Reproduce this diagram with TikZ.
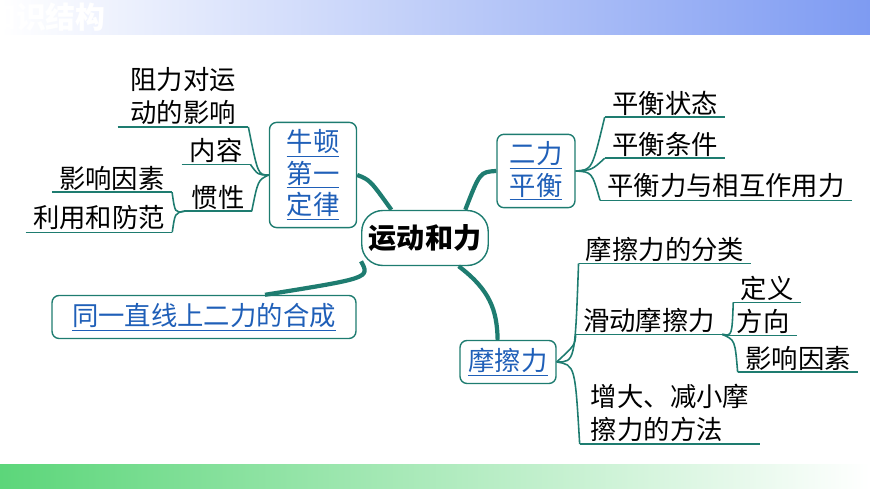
\documentclass[tikz,border=0pt]{standalone}
\usepackage{fontspec}
\setmainfont{Noto Sans CJK SC}
\usetikzlibrary{calc}
\definecolor{teal1}{HTML}{1E7C70}
\definecolor{linkblue}{HTML}{1F5FB8}
\definecolor{barblue}{HTML}{7E9BF2}
\definecolor{bargreen}{HTML}{5CD67A}
\tikzset{
  box/.style={draw=teal1, thick, rounded corners=4pt, fill=white, inner sep=4pt},
  leaf/.style={inner xsep=4pt, inner ysep=1pt, font=\fontsize{15}{19}\selectfont, align=left},
  uline/.style={teal1, line width=0.9pt},
  twig/.style={teal1, line width=0.9pt},
  bough/.style={teal1, line width=2.4pt},
}
\newcommand{\blink}[1]{\textcolor{linkblue}{\underline{#1}}}
\newcommand{\under}[1]{\draw[uline] (#1.south west) -- (#1.south east);}
\begin{document}
\begin{tikzpicture}[x=0.02cm, y=-0.02cm]
	\useasboundingbox (0,0) rectangle (870,489);

	% Bars
	\shade[left color=white, right color=barblue] (0,0) rectangle (870,35);
	\node[anchor=west, text=white, font=\fontsize{17}{20}\bfseries] (title) at (-20,17) {知识结构};
	\shade[left color=bargreen, right color=white] (0,465) rectangle (870,489);

	% Boxes
	\node[box, font=\fontsize{16}{20}\bfseries, rounded corners=12pt, minimum width=2.5cm, minimum height=1.1cm] (root) at (425,238) {运动和力};
	\node[box, font=\fontsize{15}{20}\selectfont, align=center, minimum width=1.74cm, minimum height=2.06cm] (newton) at (313,175) {\blink{牛顿}\\[-2pt]\blink{第一}\\[-2pt]\blink{定律}};
	\node[box, font=\fontsize{15}{20}\selectfont, align=center, minimum width=1.56cm, minimum height=1.36cm] (balance) at (536,171) {\blink{二力}\\[-2pt]\blink{平衡}};
	\node[box, font=\fontsize{15}{18}\selectfont, minimum width=6.08cm, minimum height=0.86cm] (compose) at (204,317) {\blink{同一直线上二力的合成}};
	\node[box, font=\fontsize{15}{18}\selectfont, minimum width=1.92cm, minimum height=0.86cm] (friction) at (508,362) {\blink{摩擦力}};

	% Main branches
	\draw[bough] (newton.east) .. controls (370,180) .. (root.140);
	\draw[bough] (balance.west) .. controls (480,172) .. (root.35);
	\draw[bough] (root.200) .. controls (370,278) .. (compose.20);
	\draw[bough] (root.-40) .. controls (490,290) and (497,310) .. (friction.115);

	% Newton leaves
	\node[leaf, minimum width=2.6cm] (resist) at (183,96) {阻力对运\\动的影响};
	\node[leaf, minimum width=1.36cm] (content) at (216,150) {内容};
	\node[leaf, minimum width=1.3cm] (inertia) at (218,197) {惯性};
	\node[leaf, minimum width=2.3cm] (factor) at (112,178) {影响因素};
	\node[leaf, minimum width=2.84cm] (usage) at (99,218) {利用和防范};
	\foreach \n in {resist,content,inertia,factor,usage} {\under{\n}}
	\draw[twig] (newton.west) .. controls (258,175) .. (resist.south east);
	\draw[twig] (newton.west) .. controls (258,175) .. (content.south east);
	\draw[twig] (newton.west) .. controls (258,180) .. (inertia.south east);
	\draw[twig] (inertia.south west) .. controls (175,213) .. (factor.south east);
	\draw[twig] (inertia.south west) .. controls (175,213) .. (usage.south east);

	% Balance leaves
	\node[leaf, minimum width=2.4cm] (state) at (665,103) {平衡状态};
	\node[leaf, minimum width=2.4cm] (cond) at (665,144) {平衡条件};
	\node[leaf, minimum width=4.86cm] (pair) at (726,186) {平衡力与相互作用力};
	\foreach \n in {state,cond,pair} {\under{\n}}
	\draw[twig] (balance.east) .. controls (592,170) .. (state.south west);
	\draw[twig] (balance.east) .. controls (592,170) .. (cond.south west);
	\draw[twig] (balance.east) .. controls (592,172) .. (pair.south west);

	% Friction leaves
	\node[leaf, minimum width=3.2cm] (kind) at (665,249) {摩擦力的分类};
	\node[leaf, minimum width=2.84cm] (slide) at (649,320) {滑动摩擦力};
	\node[leaf, minimum width=1.2cm] (define) at (767,288) {定义};
	\node[leaf, minimum width=1.34cm] (dir) at (763,321) {方向};
	\node[leaf, minimum width=2.4cm] (effect) at (798,358) {影响因素};
	\node[leaf, minimum width=3.6cm] (ways) at (670,413) {增大、减小摩\\擦力的方法};
	\foreach \n in {kind,slide,define,dir,effect,ways} {\under{\n}}
	\draw[twig] (friction.east) .. controls (575,362) .. (kind.south west);
	\draw[twig] (friction.east) .. controls (575,345) .. (slide.south west);
	\draw[twig] (friction.east) .. controls (575,365) .. (ways.south west);
	\draw[twig] (slide.south east) .. controls (732,336) .. (define.south west);
	\draw[twig] (slide.south east) -- (dir.south west);
	\draw[twig] (slide.south east) .. controls (735,340) .. (effect.south west);
\end{tikzpicture}
\end{document}
